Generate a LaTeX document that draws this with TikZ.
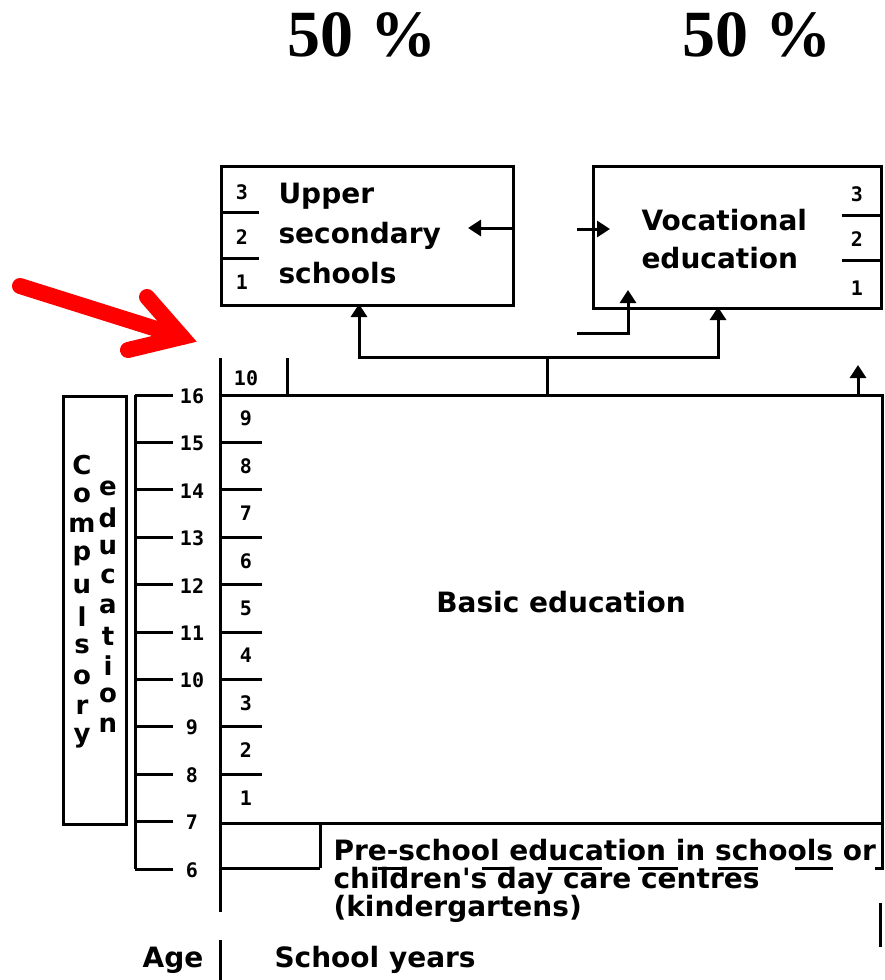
\documentclass[tikz,border=0pt]{standalone}
\usepackage{fontspec}
\setmainfont{DejaVu Sans}
\newfontfamily\plainfont{DejaVu Sans}
\newfontfamily\pctfont{Liberation Serif}
\newfontfamily\digitfont{DejaVu Sans Mono}
\usetikzlibrary{arrows.meta}

\begin{document}
\begin{tikzpicture}[x=1bp,y=-1bp,line width=3bp,
  lbl/.style={font=\bfseries\fontsize{28bp}{32bp}\selectfont, inner sep=0pt},
  letter/.style={font=\bfseries\fontsize{26bp}{28bp}\selectfont, inner sep=0pt},
  num/.style={font=\digitfont\bfseries\fontsize{20bp}{20bp}\selectfont, inner sep=0pt},
  pct/.style={font=\pctfont\bfseries\fontsize{66bp}{66bp}\selectfont, inner sep=0pt, anchor=base},
  frame/.style={draw, inner sep=0pt, anchor=north west},
  arr/.style={-{Triangle[length=13bp,width=16bp]}},
  pointer/.style={draw=red, line width=16bp, line cap=round}]
\useasboundingbox (0,0) rectangle (885,980);

% shares
\node[pct] (pa) at (362,56) {50 \%};
\node[pct] (pb) at (757,56) {50 \%};

% upper secondary schools
\node[frame, minimum width=292bp, minimum height=139bp] (upper) at (220,165) {};
\node[lbl, anchor=base west] (up1) at (277,203) {Upper};
\node[lbl, anchor=base west] (up2) at (277,243) {secondary};
\node[lbl, anchor=base west] (up3) at (277,283) {schools};
\draw (220,212) -- (259,212);
\draw (220,258) -- (259,258);
\node[num] (u3) at (242,192) {3};
\node[num] (u2) at (242,237) {2};
\node[num] (u1) at (242,282) {1};

% vocational education
\node[frame, minimum width=288bp, minimum height=142bp] (voc) at (592,165) {};
\node[lbl, anchor=base west] (vo1) at (640,230) {Vocational};
\node[lbl, anchor=base west] (vo2) at (640,268) {education};
\draw (842,215) -- (880,215);
\draw (842,260) -- (880,260);
\node[num] (v3) at (857,194) {3};
\node[num] (v2) at (857,239) {2};
\node[num] (v1) at (857,288) {1};

% connectors between the upper boxes
\coordinate (uTip) at (468,228);
\draw[arr] (upper.east |- uTip) -- (uTip);
\coordinate (vTail) at (577,229);
\coordinate (vTip) at (610,229);
\draw[arr] (vTail) -- (vTip);
\coordinate (wTail) at (577,333);
\coordinate (wTip) at (628,290);
\draw[arr] (wTail) -| (wTip);

% branch from basic education
\coordinate (fork) at (547,357);
\coordinate (uBot) at (359,304);
\coordinate (vBot) at (718,307);
\coordinate (topEdge) at (547,395);
\draw (topEdge) -- (fork);
\draw[arr] (fork) -| (uBot);
\draw[arr] (fork) -| (vBot);
\coordinate (rBase) at (858,395);
\coordinate (rTip) at (858,365);
\draw[arr] (rBase) -- (rTip);

% basic education frame
\draw (220,395) -- (882,395) -- (882,868) -- (875,868);
\node[lbl] (basic) at (561,602) {Basic education};

% school years column
\draw (220,358) -- (220,912);
\draw (287,358) -- (287,395);
\node[num] (y10) at (246,378) {10};
\foreach \i in {1,...,8} \draw (220,395+47.4*\i) -- (262,395+47.4*\i);
\foreach \i in {1,...,9} {
  \pgfmathtruncatemacro\yr{10-\i}
  \node[num] (y\yr) at (246,395+47.4*\i-23.7) {\yr};
}

% pre-school
\draw (220,823) -- (882,823);
\draw (320,823) -- (320,868);
\draw (220,868) -- (320,868);
\foreach \a/\b in {378/403,482/512,548/602,638/678,718/758,795/833}
  \draw (\a,868) -- (\b,868);
\draw (880,903) -- (880,947);
\node[lbl, anchor=base west] (pre1) at (332,860) {Pre-school education in schools or};
\node[lbl, anchor=base west] (pre2) at (332,888) {children{\plainfont\bfseries '}s day care centres};
\node[lbl, anchor=base west] (pre3) at (332,916) {(kindergartens)};

% age column
\draw (135,395) -- (135,869);
\foreach \i in {0,...,10} {
  \pgfmathtruncatemacro\ag{16-\i}
  \draw (135,395+47.4*\i) -- (173,395+47.4*\i);
  \node[num] (a\ag) at (192,396+47.4*\i) {\ag};
}

% compulsory education
\node[frame, minimum width=63bp, minimum height=428bp] (comp) at (62,395) {};
\foreach \c [count=\k from 0] in {C,o,m,p,u,l,s,o,r,y}
  \node[letter] (c\k) at (82,465+30.3*\k) {\c};
\foreach \c [count=\k from 0] in {e,d,u,c,a,t,i,o,n}
  \node[letter] (e\k) at (108,488+29.6*\k) {\c};

% legend
\node[lbl, anchor=base] (age) at (173,967) {Age};
\draw (220,940) -- (220,980);
\node[lbl, anchor=base west] (years) at (273,967) {School years};

% red pointer
\coordinate (pTail) at (20,286);
\coordinate (pHead) at (182,337);
\coordinate (pUp) at (147,297);
\coordinate (pLow) at (128,350);
\draw[pointer] (pTail) -- (pHead);
\draw[pointer, line join=miter] (pUp) -- (pHead) -- (pLow);
\end{tikzpicture}
\end{document}
